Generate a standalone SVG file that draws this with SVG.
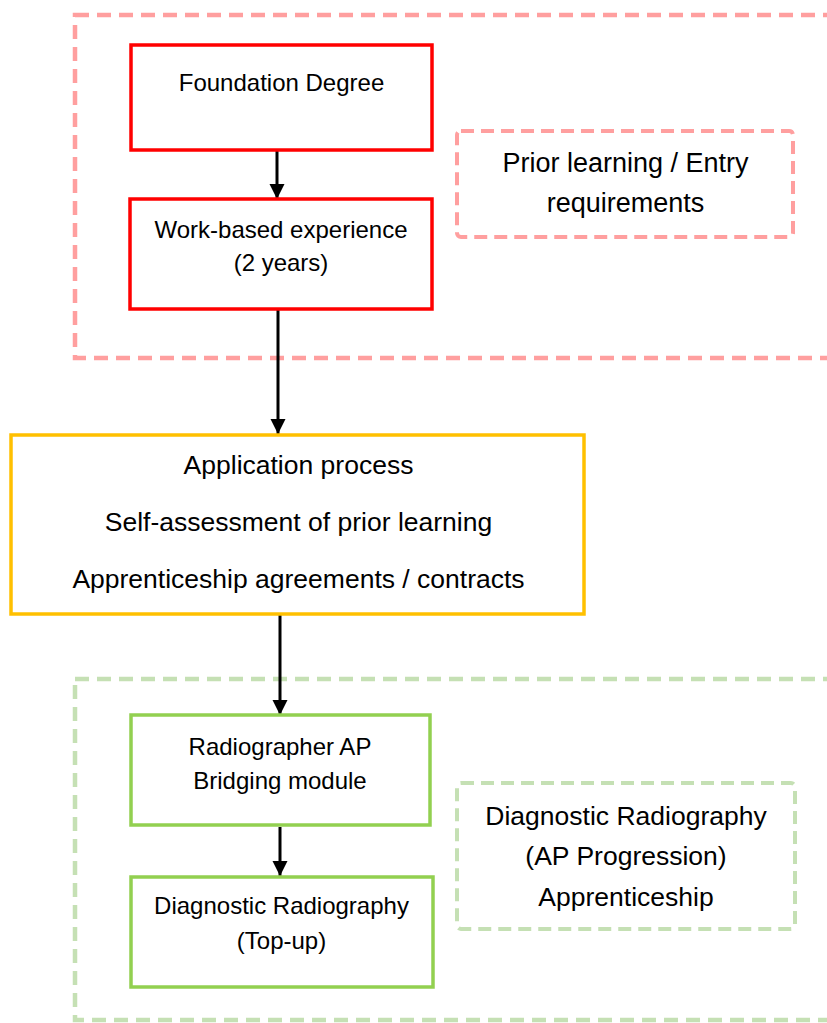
<svg xmlns="http://www.w3.org/2000/svg" width="827" height="1023" viewBox="0 0 827 1023">
<style>
.bg{fill:#ffffff}
.grp-red{fill:none;stroke:#FF9F9F;stroke-width:4.5;stroke-dasharray:14 8}
.grp-green{fill:none;stroke:#C5E0B4;stroke-width:4.5;stroke-dasharray:14 8}
.note-red{fill:#ffffff;stroke:#FF9F9F;stroke-width:4;stroke-dasharray:13 7}
.note-green{fill:#ffffff;stroke:#C5E0B4;stroke-width:4;stroke-dasharray:13 7}
.box-red{fill:#ffffff;stroke:#FF0000;stroke-width:3.5}
.box-yellow{fill:#ffffff;stroke:#FFC000;stroke-width:3.5}
.box-green{fill:#ffffff;stroke:#92D050;stroke-width:3.5}
.conn{fill:none;stroke:#000000;stroke-width:3}
text{font-family:"Liberation Sans",Arial,sans-serif;fill:#000000;text-anchor:middle}
.s{font-size:24px}
.b{font-size:26.5px}
.p{font-size:27px}
</style>
<defs>
<marker id="arrow" markerUnits="userSpaceOnUse" markerWidth="16" markerHeight="16" viewBox="0 0 16 16" refX="15" refY="8" orient="auto">
<path d="M0,0.5 L15,8 L0,15.5 Z" fill="#000000"/>
</marker>
</defs>
<rect class="bg" x="0" y="0" width="827" height="1023"/>

<g id="group-entry">
<rect class="grp-red" x="75" y="15" width="780" height="343"/>
</g>
<g id="group-apprenticeship">
<rect class="grp-green" x="75" y="679" width="780" height="341"/>
</g>

<g id="connectors">
<line class="conn" x1="277" y1="151" x2="277" y2="199" marker-end="url(#arrow)"/>
<line class="conn" x1="278" y1="310" x2="278" y2="434" marker-end="url(#arrow)"/>
<line class="conn" x1="280" y1="615" x2="280" y2="715" marker-end="url(#arrow)"/>
<line class="conn" x1="280" y1="827" x2="280" y2="876" marker-end="url(#arrow)"/>
</g>

<g id="node-foundation">
<rect class="box-red" x="131" y="45" width="301" height="105"/>
<text class="s" x="281.5" y="91">Foundation Degree</text>
</g>
<g id="node-work">
<rect class="box-red" x="130" y="199" width="302" height="110"/>
<text class="s" x="281" y="238">Work-based experience</text>
<text class="s" x="281" y="271">(2 years)</text>
</g>
<g id="node-prior">
<rect class="note-red" x="457" y="131" width="336" height="106" rx="4"/>
<text class="p" x="625.5" y="172">Prior learning / Entry</text>
<text class="p" x="625.5" y="212">requirements</text>
</g>
<g id="node-application">
<rect class="box-yellow" x="11" y="435" width="573" height="179"/>
<text class="b" x="298.5" y="474">Application process</text>
<text class="b" x="298.5" y="531">Self-assessment of prior learning</text>
<text class="b" x="298.5" y="588">Apprenticeship agreements / contracts</text>
</g>
<g id="node-bridging">
<rect class="box-green" x="131" y="715" width="299" height="110"/>
<text class="s" x="280" y="755">Radiographer AP</text>
<text class="s" x="280" y="789">Bridging module</text>
</g>
<g id="node-topup">
<rect class="box-green" x="131" y="877" width="302" height="110"/>
<text class="s" x="281.5" y="914">Diagnostic Radiography</text>
<text class="s" x="281.5" y="949">(Top-up)</text>
</g>
<g id="node-ap-progression">
<rect class="note-green" x="457" y="783" width="338" height="146" rx="4"/>
<text class="b" x="626" y="825">Diagnostic Radiography</text>
<text class="b" x="626" y="865">(AP Progression)</text>
<text class="b" x="626" y="906">Apprenticeship</text>
</g>
</svg>
